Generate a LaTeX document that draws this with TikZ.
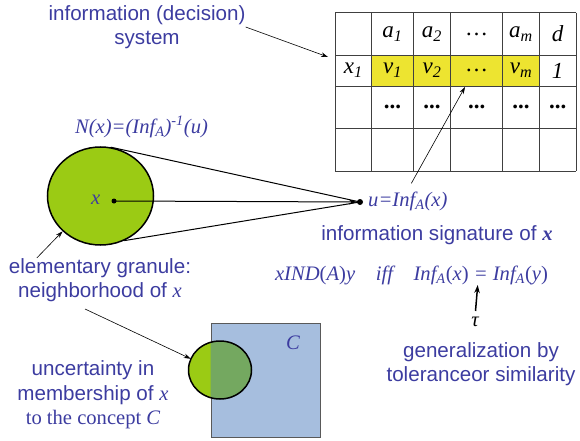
\documentclass[tikz,border=0pt]{standalone}
\usepackage{fontspec}
\setmainfont{Liberation Sans}
\newfontfamily\tms{Liberation Serif}
\usetikzlibrary{arrows.meta, calc, positioning, shapes.geometric}
\definecolor{txtblue}{HTML}{3C3CA0}
\definecolor{granGreen}{HTML}{9BCB14}
\definecolor{overGreen}{HTML}{74A860}
\definecolor{conceptBlue}{HTML}{A6BEDE}
\definecolor{rowYellow}{HTML}{EDE430}
\definecolor{gridgray}{gray}{0.25}
\newcommand{\mi}[1]{{\tms\itshape #1}}
\tikzset{
  lbl/.style={text=txtblue, font=\fontsize{20.6}{24.4}\selectfont, align=center, inner sep=0pt},
  mlbl/.style={lbl, font=\tms\itshape\fontsize{20.6}{24.4}\selectfont},
  cell/.style={font=\tms\itshape\fontsize{23}{24}\selectfont, inner sep=0pt},
  thinarr/.style={black, line width=0.6pt, -{Stealth[length=7pt,width=4.5pt]}},
  dotnode/.style={circle, fill=black, inner sep=0pt, minimum size=#1},
}

\begin{document}
\begin{tikzpicture}[x=1pt, y=-1pt]
    \useasboundingbox (0,0) rectangle (580,441);
    % decision table
    \fill[rowYellow] (371.7,55) rectangle (539.3,86);
    \foreach \x in {335,371.7,413.3,450.7,502.7,539.3,576}
      \draw[gridgray, line width=0.8pt] (\x,12.7) -- (\x,171);
    \foreach \y in {12.7,55,86,128.3,171}
      \draw[gridgray, line width=0.8pt] (335,\y) -- (576,\y);
    \foreach \x/\t [count=\i] in {392.5/{a\textsubscript{1}}, 432/{a\textsubscript{2}},
                                  476.7/{\upshape\ldots}, 521/{a\textsubscript{m}}, 557.7/d}
      \node[cell] (h\i) at (\x,34) {\t};
    \foreach \x/\t [count=\i] in {353.3/{x\textsubscript{1}}, 392.5/{v\textsubscript{1}},
                                  432/{v\textsubscript{2}}, 476.7/{\upshape\ldots},
                                  521/{v\textsubscript{m}}, 557.7/1}
      \node[cell] (v\i) at (\x,70.5) {\t};
    \foreach \x [count=\i] in {392.5,432,476.7,521,557.7}
      \node[cell, font=\tms\bfseries\fontsize{23}{24}\selectfont] (r\i) at (\x,107) {...};
    \coordinate (tblw) at (328,57);
    \coordinate (dotcell) at (465,87);
    \node[lbl] (title) at (147,27) {information (decision)\\system};
    \draw[thinarr] (title.east) -- (tblw);
    % granule and its signature
    \node[mlbl] (nform) at (141.5,127) {N(x)=(Inf\textsubscript{A})\textsuperscript{-1}(u)};
    \node[ellipse, draw, line width=1.5pt, fill=granGreen, minimum width=106pt,
          minimum height=98pt, inner sep=0pt] (gran) at (100.5,196) {};
    \node[dotnode=5pt] (xdot) at (114,201) {};
    \node[mlbl] (xlab) at (95.7,200) {x};
    \node[dotnode=6pt] (udot) at (360,202) {};
    \draw[line width=1pt] (gran.78) -- (udot.center);
    \draw[line width=1pt] (gran.-62) -- (udot.center);
    \draw[line width=1pt, -{Stealth[length=8pt,width=5pt]}] (xdot.center) -- (udot);
    \node[mlbl, anchor=west] (ulab) at (368,201) {u=Inf\textsubscript{A}(x)};
    \draw[thinarr] ([xshift=3.5pt, yshift=8pt]ulab.north) -- (dotcell);
    \node[lbl] (sig) at (437,235) {information signature of {\tms\bfseries\itshape x}};
    \node[mlbl] (ind) at (411.5,275)
      {xIND\textup{(}A\textup{)}y\quad iff\quad Inf\textsubscript{A}\textup{(}x\textup{)} =
       Inf\textsubscript{A}\textup{(}y\textup{)}};
    \coordinate (eqpt) at (477.7,285);
    \node[mlbl, text=black] (tau) at (475,322) {τ};
    \draw[line width=1.5pt, -{Stealth[length=8pt,width=5.5pt]}, shorten <=6pt] (tau.north) -- (eqpt);
    \node[lbl] (gen) at (481,364) {generalization by\\toleranceor similarity};
    \node[lbl] (granlab) at (100,280) {elementary granule:\\neighborhood of \mi{x}};
    \draw[thinarr] ([xshift=28pt]granlab.north west) -- (gran.223);
    % concept and uncertain membership
    \node[draw=gray!70!black, fill=conceptBlue, minimum width=109.3pt, minimum height=114.6pt,
          inner sep=0pt, anchor=north west] (concept) at (210.7,322.7) {};
    \node[ellipse, fill=granGreen, minimum width=63pt, minimum height=58pt,
          inner sep=0pt] (memb) at (220,370) {};
    \begin{scope}
      \clip (concept.south west) rectangle (concept.north east);
      \fill[overGreen] (memb.center) ellipse [x radius=31.5pt, y radius=29pt];
    \end{scope}
    \draw[line width=1.5pt] (memb.center) ellipse [x radius=31.5pt, y radius=29pt];
    \node[mlbl] (clab) at (293,343) {C};
    \draw[thinarr] ([xshift=-15pt, yshift=-7pt]granlab.south) -- (memb.159);
    \node[lbl] (unc) at (93,395) {uncertainty in\\membership of \mi{x}\\{\tms to the concept \itshape C}};
  \end{tikzpicture}
\end{document}
